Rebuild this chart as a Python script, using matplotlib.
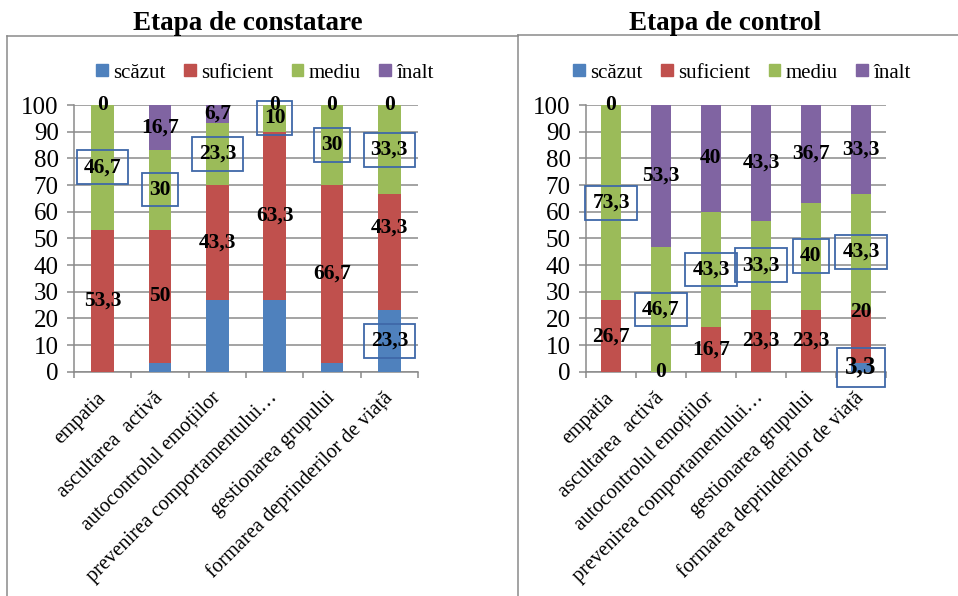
import matplotlib.pyplot as plt
from matplotlib.lines import Line2D
from matplotlib.patches import Patch

plt.rcParams['font.family'] = ['Liberation Serif', 'DejaVu Serif']

categories = ['empatia', 'ascultarea  activă', 'autocontrolul emoțiilor',
              'prevenirea comportamentului…', 'gestionarea grupului',
              'formarea deprinderilor de viață']
levels = ['scăzut', 'suficient', 'mediu', 'înalt']
colors = ['#4F81BD', '#C0504D', '#9BBB59', '#8064A2']

# Etapa de constatare
const_scazut = [0, 3.3, 26.7, 26.7, 3.3, 23.3]
const_suficient = [53.3, 50, 43.3, 63.3, 66.7, 43.3]
const_mediu = [46.7, 30, 23.3, 10, 30, 33.3]
const_inalt = [0, 16.7, 6.7, 0, 0, 0]

# Etapa de control
ctrl_scazut = [0, 0, 0, 0, 0, 3.3]
ctrl_suficient = [26.7, 0, 16.7, 23.3, 23.3, 20]
ctrl_mediu = [73.3, 46.7, 43.3, 33.3, 40, 43.3]
ctrl_inalt = [0, 53.3, 40, 43.3, 36.7, 33.3]

W, H = 958, 596
fig = plt.figure(figsize=(W / 100, H / 100), dpi=100)

grey = '#8a8a8a'
box_col = '#3f68a8'


def fmt(v):
    return f"{v:g}".replace('.', ',')


def draw_panel(ax, series, title, tx):
    x = list(range(len(categories)))
    bottom = [0] * len(categories)
    for i, vals in enumerate(series):
        ax.bar(x, vals, 0.4, bottom=bottom, color=colors[i], zorder=2, label=levels[i])
        for j, v in enumerate(vals):
            # only the last category shows the "scăzut" label
            if i == 0 and j != len(categories) - 1:
                continue
            yc = bottom[j] + v / 2
            if i == 1 and j == len(categories) - 1:
                yc += 9  # label moved up in the original
            boxed = i == 2 or i == 0
            size = 15.5
            if i == 0 and v < 5:
                size = 18
            ax.text(j, yc, fmt(v), ha='center', va='center', fontsize=size,
                    fontweight='bold', zorder=4,
                    bbox=dict(boxstyle='square,pad=0.32', fc='none', ec=box_col, lw=1.3)
                    if boxed else None)
        bottom = [b + v for b, v in zip(bottom, vals)]

    ax.set_xlim(-0.5, len(categories) - 0.5)
    ax.set_ylim(0, 100)
    ax.set_yticks(range(0, 101, 10))
    ax.yaxis.grid(True, color=grey, lw=1.1, zorder=0)
    ax.set_axisbelow(True)
    ax.tick_params(axis='y', length=5, width=1.1, color=grey, pad=6, labelsize=18)
    ax.set_xticks(x)
    ax.set_xticklabels(categories, rotation=45, ha='right', va='center',
                       rotation_mode='anchor', fontsize=14.7)
    ax.tick_params(axis='x', which='major', length=0, pad=17)
    ax.set_xticks([k - 0.5 for k in range(len(categories) + 1)], minor=True)
    ax.tick_params(axis='x', which='minor', length=4, width=1.1, color=grey)
    for s in ['top', 'right']:
        ax.spines[s].set_visible(False)
    for s in ['left', 'bottom']:
        ax.spines[s].set_color(grey)
        ax.spines[s].set_linewidth(1.1)
        ax.spines[s].set_zorder(1)

    handles = [Patch(color=c) for c in colors]
    fig.legend(handles, levels, loc='center', bbox_to_anchor=(tx, 1 - 73 / H),
               ncol=4, frameon=False, fontsize=15, handlelength=0.55,
               handleheight=0.55, handletextpad=0.25, columnspacing=0.9)
    fig.text(tx - 0.018, 1 - 30 / H, title, ha='center', va='baseline',
             fontsize=19.5, fontweight='bold')


ax1 = fig.add_axes([74 / W, 1 - 371.7 / H, 344 / W, 266.7 / H])
ax2 = fig.add_axes([586 / W, 1 - 371.7 / H, 300 / W, 266.7 / H])

draw_panel(ax1, [const_scazut, const_suficient, const_mediu, const_inalt],
           'Etapa de constatare', 265 / W)
draw_panel(ax2, [ctrl_scazut, ctrl_suficient, ctrl_mediu, ctrl_inalt],
           'Etapa de control', 742 / W)

# chart frames
frame = dict(color=grey, lw=1.1, transform=fig.transFigure)
fig.add_artist(Line2D([7 / W, 7 / W], [0, 1 - 36 / H], **frame))
fig.add_artist(Line2D([7 / W, 518 / W], [1 - 36 / H, 1 - 36 / H], **frame))
fig.add_artist(Line2D([518 / W, 518 / W], [0, 1 - 35 / H], **frame))
fig.add_artist(Line2D([518 / W, 1], [1 - 35 / H, 1 - 35 / H], **frame))

fig.savefig('out.png', dpi=100)
